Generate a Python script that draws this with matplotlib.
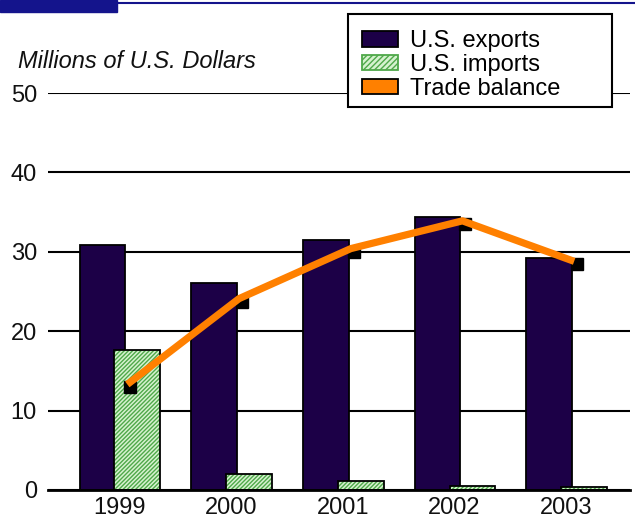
import numpy as np
import matplotlib
matplotlib.use("Agg")
from matplotlib import pyplot as plt
from matplotlib.patches import Rectangle, Patch
from matplotlib.lines import Line2D
from matplotlib import transforms

plt.rcParams['font.family'] = ['Liberation Sans', 'DejaVu Sans']

years = ['1999', '2000', '2001', '2002', '2003']
exports = [30.9, 26.1, 31.5, 34.4, 29.2]
imports = [17.6, 2.0, 1.1, 0.5, 0.4]
balance = [e - i for e, i in zip(exports, imports)]

export_color = '#1c0047'
import_face = '#d6f2cf'
import_hatch = '#4fa84a'
line_color = '#ff8000'
navy = '#14148c'

fig = plt.figure(figsize=(6.35, 5.21), dpi=100)
ax = fig.add_axes([48 / 635, 1 - 490 / 521, 582 / 635, (490 - 93) / 521])

x = np.arange(len(years))
w = 0.41

# exports, then the hatched imports overlapping them on the right
ax.bar(x - 0.153, exports, w, color=export_color, edgecolor='black',
       linewidth=1.3, zorder=3)
ax.bar(x + 0.16, imports, w, color=import_face, edgecolor=import_hatch,
       hatch='////////', linewidth=0, zorder=4)
ax.bar(x + 0.16, imports, w, fill=False, edgecolor='black',
       linewidth=1.3, zorder=5)

# trade balance with dark square "shadows" under each point
lx = x + 0.07
shadow = transforms.offset_copy(ax.transData, fig=fig, x=3, y=-3, units='dots')
ax.plot(lx, balance, ls='none', marker='s', ms=8, color='black',
        transform=shadow, zorder=6, clip_on=False)
ax.plot(lx, balance, color=line_color, lw=5.2, zorder=7,
        solid_capstyle='butt', solid_joinstyle='round')

ax.set_ylim(0, 50)
ax.set_xlim(-0.64, 4.57)
ax.set_yticks([0, 10, 20, 30, 40, 50])
ax.set_xticks(x)
ax.set_xticklabels(years)
ax.tick_params(length=0, labelsize=17, colors='#111111')
ax.tick_params(axis='y', pad=8)
ax.tick_params(axis='x', pad=5)
ax.yaxis.grid(True, color='black', linewidth=1.5)
ax.set_axisbelow(True)
for s in ['left', 'right', 'top']:
    ax.spines[s].set_visible(False)
ax.spines['bottom'].set_linewidth(2)
ax.spines['bottom'].set_zorder(8)

fig.text(18 / 635, 1 - 61 / 521, 'Millions of U.S. Dollars', style='italic',
         fontsize=17, va='center', ha='left', color='#111111')

# header bar and rule across the top
fig.patches.append(Rectangle((0, 1 - 12 / 521), 117 / 635, 12 / 521,
                             transform=fig.transFigure, color=navy, zorder=10))
fig.lines.append(Line2D([0, 1], [1 - 3 / 521, 1 - 3 / 521],
                        transform=fig.transFigure, color=navy, lw=1.5))

# legend box is wider than its entries, so draw the frame separately
fig.patches.append(Rectangle((348 / 635, 1 - 107 / 521), 264 / 635, 93 / 521,
                             transform=fig.transFigure, facecolor='white',
                             edgecolor='black', linewidth=1.5, zorder=19))
handles = [
    Patch(facecolor=export_color, edgecolor='black', linewidth=1.3),
    Patch(facecolor=import_face, edgecolor=import_hatch, hatch='//////', linewidth=1.3),
    Patch(facecolor=line_color, edgecolor='black', linewidth=1.3),
]
leg = fig.legend(handles, ['U.S. exports', 'U.S. imports', 'Trade balance'],
                 loc='upper left', bbox_to_anchor=(362 / 635, 1 - 30 / 521),
                 fontsize=17, frameon=False, borderpad=0, labelspacing=0.08,
                 handlelength=1.53, handleheight=0.64, handletextpad=0.5,
                 borderaxespad=0)
leg.set_zorder(20)

fig.savefig('out.png', dpi=100)
